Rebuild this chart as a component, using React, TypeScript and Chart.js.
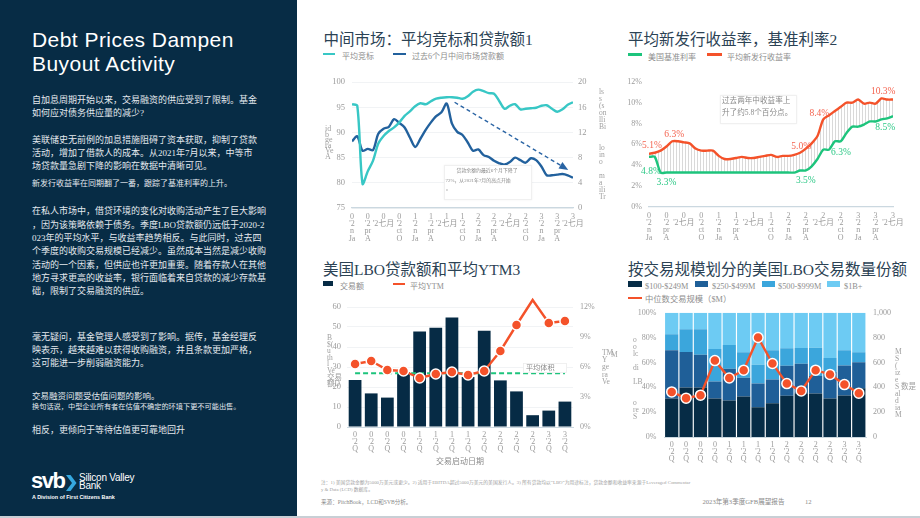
import React, { useEffect, useRef } from 'react';
import { Chart, registerables } from 'chart.js';

Chart.register(...registerables);

const FONT = "'Liberation Serif', 'Noto Sans CJK SC', serif";
const SANS = "'Liberation Sans', Arial, sans-serif";
Chart.defaults.font.family = FONT;

// ---------- 中间市场：平均竞标和贷款额 (monthly, Jan 2020 - Jul 2023) ----------
const MONTH_TICKS: string[][] = [
  ['0', "'2", 'n', 'Ja'], ['0', "'2", 'pr', 'A'], ['0', "'2七月"], ['0', "'2", 'ct', 'O'],
  ['1', "'2", 'n', 'Ja'], ['1', "'2", 'pr', 'A'], ['1', "'2七月"], ['1', "'2", 'ct', 'O'],
  ['2', "'2", 'n', 'Ja'], ['2', "'2", 'pr', 'A'], ['2', "'2七月"], ['2', "'2", 'ct', 'O'],
  ['3', "'2", 'n', 'Ja'], ['3', "'2", 'pr', 'A'], ['3', "'2七月"],
];
const AVG_BID = [
  95.6, 95.3, 79.8, 82.3, 84.4, 87.8, 89.3, 90.3, 91.0, 92.0, 93.3, 94.2, 95.2, 95.8, 95.6,
  96.2, 96.7, 96.9, 97.0, 97.0, 96.9, 96.7, 97.2, 98.1, 98.5, 98.2, 97.8, 97.7, 96.2, 94.7,
  95.3, 95.6, 94.6, 94.7, 94.8, 94.9, 95.3, 95.4, 94.7, 94.1, 94.6, 95.5, 96.0,
];
const LOAN_VOLUME_6M = [
  10.6, 11.4, 9.1, 9.4, 9.2, 11.8, 12.6, 12.9, 14.1, 13.5, 12.8, 11.2, 9.7, 11.0, 12.4,
  13.6, 14.6, 15.2, 16.6, 13.4, 12.1, 11.6, 10.4, 9.1, 9.3, 8.4, 8.1, 7.5, 7.1, 6.9,
  7.3, 8.0, 7.6, 7.2, 7.9, 7.6, 6.6, 5.2, 5.2, 5.3, 5.4, 5.2, 4.8,
];
// trend arrow, from the July 2021 peak to the latest months (month index, $B)
const LOAN_TREND = [
  { x: 19.5, y: 16.8 },
  { x: 40.6, y: 6.3 },
];

// ---------- 平均新发行收益率，基准利率 (monthly, %) ----------
const BASE_RATE = [
  4.8, 4.8, 3.3, 3.3, 3.3, 3.3, 3.3, 3.3, 3.3, 3.3, 3.3, 3.3, 3.3, 3.3, 3.3,
  3.3, 3.3, 3.3, 3.3, 3.3, 3.3, 3.3, 3.3, 3.3, 3.3, 3.3, 3.5, 3.5, 3.9, 4.6,
  5.5, 5.5, 6.3, 6.3, 7.1, 7.7, 7.7, 7.9, 8.2, 8.2, 8.4, 8.5, 8.7,
];
const NEW_ISSUE_YIELD = [
  5.1, 5.2, 5.4, 5.8, 6.3, 6.3, 6.2, 6.1, 5.6, 5.4, 5.4, 5.4, 4.9, 4.6, 4.6,
  4.7, 4.8, 4.7, 4.7, 4.8, 4.9, 5.0, 4.8, 4.9, 4.9, 5.0, 5.2, 5.6, 6.1, 6.8,
  8.4, 8.8, 9.2, 9.6, 10.0, 10.0, 10.3, 9.9, 10.0, 9.9, 10.4, 10.3, 10.3,
];

// ---------- 美国LBO贷款额和平均YTM (quarterly, Q1 2020 - Q2 2023) ----------
const QUARTER_TICKS: string[][] = [
  ['0', "'2", 'Q'], ['0', "'2", 'Q'], ['0', "'2", 'Q'], ['0', "'2", 'Q'],
  ['1', "'2", 'Q'], ['1', "'2", 'Q'], ['1', "'2", 'Q'], ['1', "'2", 'Q'],
  ['2', "'2", 'Q'], ['2', "'2", 'Q'], ['2', "'2", 'Q'], ['2', "'2", 'Q'],
  ['3', "'2", 'Q'], ['3', "'2", 'Q'],
];
const LBO_VOLUME = [23.5, 16.8, 14.7, 27.3, 47.7, 49.6, 54.8, 25.0, 48.1, 23.3, 17.8, 5.9, 8.2, 12.7];
const LBO_YTM = [6.3, 6.6, 5.7, 5.6, 4.9, 5.3, 5.5, 5.2, 5.6, 7.6, 10.2, 12.7, 10.4, 10.6];

// ---------- 按交易规模划分的美国LBO交易数量份额 (% of deals) ----------
const SHARE_100_249 = [31.0, 39.8, 39.8, 31.0, 29.4, 32.6, 23.9, 27.1, 33.2, 35.3, 35.0, 31.0, 33.4, 39.3];
const SHARE_250_499 = [38.8, 28.6, 26.5, 13.6, 25.5, 15.1, 19.1, 19.1, 24.1, 23.6, 14.1, 21.3, 24.2, 20.9];
const SHARE_500_999 = [13.0, 18.3, 20.4, 26.2, 19.1, 20.5, 15.1, 23.6, 14.1, 12.7, 22.8, 11.4, 12.2, 8.0];
const SHARE_1B_PLUS = [17.2, 13.3, 13.3, 29.2, 26.0, 31.8, 41.9, 30.2, 28.6, 28.4, 28.1, 36.3, 30.2, 31.8];
const MEDIAN_DEAL_SIZE = [363, 313, 337, 615, 475, 538, 801, 592, 430, 371, 538, 504, 422, 353];

// ---------- palette ----------
const NAVY_PANEL = '#072c45';
const TITLE = '#2b4254';
const LEGEND_TXT = '#8e8e8e';
const TICK = '#9b9b9b';
const AXIS = '#cbd8e0';
const GRID = '#f1f3f5';
const TEAL = '#38c7c5';
const BLUE = '#22619d';
const GREEN = '#1dc47c';
const RED = '#f4522a';
const BAR_NAVY = '#062b45';
const SIZE_COLORS = ['#062c46', '#1f5f98', '#3ba6dc', '#6dcbf3'];

const tickFont = { size: 8, lineHeight: 0.92 };

const arrowHead = {
  id: 'arrowHead',
  afterDatasetsDraw(chart: any) {
    const pts = chart.getDatasetMeta(2).data;
    if (pts.length < 2) return;
    const a = pts[pts.length - 2];
    const b = pts[pts.length - 1];
    const ang = Math.atan2(b.y - a.y, b.x - a.x);
    const ctx = chart.ctx;
    ctx.save();
    ctx.fillStyle = '#2a64a4';
    ctx.translate(b.x, b.y);
    ctx.rotate(ang);
    ctx.beginPath();
    ctx.moveTo(3, 0);
    ctx.lineTo(-6, -3.8);
    ctx.lineTo(-6, 3.8);
    ctx.closePath();
    ctx.fill();
    ctx.restore();
  },
};

// value callouts for the yield chart: dataset, month index, offset
const YIELD_CALLOUTS = [
  { ds: 1, i: 0, dx: 3, dy: -8.5 },
  { ds: 0, i: 0, dx: 2, dy: 15 },
  { ds: 1, i: 4, dx: 2, dy: -7 },
  { ds: 0, i: 3, dx: 0, dy: 10 },
  { ds: 1, i: 25, dx: 7, dy: -8 },
  { ds: 0, i: 27, dx: 0, dy: 10 },
  { ds: 1, i: 30, dx: -4, dy: -6 },
  { ds: 0, i: 32, dx: 6, dy: 11 },
  { ds: 1, i: 41, dx: -4, dy: -8 },
  { ds: 0, i: 41, dx: -2, dy: 9 },
];

const yieldCallouts = {
  id: 'yieldCallouts',
  afterDatasetsDraw(chart: any) {
    const ctx = chart.ctx;
    ctx.save();
    ctx.font = `9.5px ${FONT}`;
    ctx.textAlign = 'center';
    ctx.textBaseline = 'middle';
    for (const c of YIELD_CALLOUTS) {
      const pt = chart.getDatasetMeta(c.ds).data[c.i];
      const v = c.ds === 0 ? BASE_RATE[c.i] : NEW_ISSUE_YIELD[c.i];
      ctx.fillStyle = c.ds === 0 ? '#2cc886' : '#f46450';
      ctx.fillText(v.toFixed(1) + '%', pt.x + c.dx, pt.y + c.dy);
    }
    ctx.restore();
  },
};

const avgTag = {
  id: 'avgTag',
  afterDatasetsDraw(chart: any) {
    const pts = chart.getDatasetMeta(1).data;
    const last = pts[pts.length - 1];
    const ctx = chart.ctx;
    const w = 44;
    const h = 10;
    const x = last.x + 2 - w;
    const y = last.y - 10.5;
    ctx.save();
    ctx.fillStyle = 'rgba(255,255,255,0.95)';
    ctx.fillRect(x, y, w, h);
    ctx.strokeStyle = '#ececec';
    ctx.lineWidth = 0.8;
    ctx.strokeRect(x + 0.5, y + 0.5, w - 1, h - 1);
    ctx.fillStyle = '#8a8a8a';
    ctx.font = `7.2px ${FONT}`;
    ctx.textBaseline = 'middle';
    ctx.fillText('平均体积', x + 3, y + h / 2 + 0.5);
    ctx.restore();
  },
};

function hatchPattern(): any {
  const c = document.createElement('canvas');
  c.width = 3;
  c.height = 4;
  const g = c.getContext('2d')!;
  g.fillStyle = '#d9d9d9';
  g.fillRect(0, 0, 1, 4);
  return g.createPattern(c, 'repeat') || '#eeeeee';
}

const baseOptions = {
  responsive: false,
  animation: false as const,
  events: [] as any[],
  plugins: { legend: { display: false }, tooltip: { enabled: false } },
};

function buildMidMarket(canvas: HTMLCanvasElement) {
  return new Chart(canvas, {
    type: 'line',
    data: {
      datasets: [
        {
          label: '平均竞标',
          data: AVG_BID.map((y, x) => ({ x, y })),
          borderColor: TEAL,
          borderWidth: 2.4,
          pointRadius: 0,
          tension: 0.3,
          yAxisID: 'y',
        },
        {
          label: '过去6个月中间市场贷款额',
          data: LOAN_VOLUME_6M.map((y, x) => ({ x, y })),
          borderColor: BLUE,
          borderWidth: 2.4,
          pointRadius: 0,
          tension: 0.3,
          yAxisID: 'y1',
        },
        {
          label: 'trend',
          data: LOAN_TREND,
          borderColor: '#2a64a4',
          borderWidth: 1.4,
          borderDash: [4, 3],
          pointRadius: 0,
          yAxisID: 'y1',
        },
      ],
    },
    options: {
      ...baseOptions,
      layout: { padding: { top: 8, left: 0, right: 0, bottom: 0 } },
      scales: {
        x: {
          type: 'linear',
          min: 0,
          max: 42,
          grid: { display: false, drawTicks: false },
          border: { color: AXIS, width: 1.2 },
          ticks: {
            stepSize: 3,
            autoSkip: false,
            maxRotation: 0,
            minRotation: 0,
            padding: 5,
            color: TICK,
            font: tickFont,
            callback: (v: any) => MONTH_TICKS[Math.round(Number(v) / 3)] || '',
          },
          afterFit: (s: any) => { s.height = 47; },
        },
        y: {
          min: 75,
          max: 100,
          grid: { color: GRID, drawTicks: false },
          border: { display: false },
          ticks: { stepSize: 5, padding: 7, color: TICK, font: { size: 8.5 } },
          afterFit: (s: any) => { s.width = 42; },
        },
        y1: {
          position: 'right',
          min: 0,
          max: 20,
          grid: { display: false, drawTicks: false },
          border: { display: false },
          ticks: { stepSize: 4, padding: 5, color: TICK, font: { size: 8.5 } },
          afterFit: (s: any) => { s.width = 37; },
        },
      },
    } as any,
    plugins: [arrowHead],
  });
}

function buildYields(canvas: HTMLCanvasElement) {
  return new Chart(canvas, {
    type: 'line',
    data: {
      datasets: [
        {
          label: '美国基准利率',
          data: BASE_RATE.map((y, x) => ({ x, y })),
          borderColor: GREEN,
          borderWidth: 2.4,
          pointRadius: 0,
          tension: 0.25,
        },
        {
          label: '平均新发行收益率',
          data: NEW_ISSUE_YIELD.map((y, x) => ({ x, y })),
          borderColor: RED,
          borderWidth: 2.4,
          pointRadius: 0,
          tension: 0.25,
          fill: '-1',
          backgroundColor: hatchPattern(),
        },
      ],
    },
    options: {
      ...baseOptions,
      layout: { padding: { top: 9, left: 0, right: 27, bottom: 0 } },
      scales: {
        x: {
          type: 'linear',
          min: 0,
          max: 42,
          grid: { display: false, drawTicks: false },
          border: { color: AXIS, width: 1.2 },
          ticks: {
            stepSize: 3,
            autoSkip: false,
            maxRotation: 0,
            minRotation: 0,
            padding: 5,
            color: TICK,
            font: tickFont,
            callback: (v: any) => MONTH_TICKS[Math.round(Number(v) / 3)] || '',
          },
          afterFit: (s: any) => { s.height = 48; },
        },
        y: {
          min: 0,
          max: 12,
          grid: { display: false, drawTicks: false },
          border: { display: false },
          ticks: { stepSize: 2, padding: 7, color: TICK, font: { size: 8 }, callback: (v: any) => v + '%' },
          afterFit: (s: any) => { s.width = 39; },
        },
      },
    } as any,
    plugins: [yieldCallouts],
  });
}

function buildLboVolume(canvas: HTMLCanvasElement) {
  const avgVolume = LBO_VOLUME.reduce((a, b) => a + b, 0) / LBO_VOLUME.length;
  return new Chart(canvas, {
    type: 'bar',
    data: {
      labels: QUARTER_TICKS as any,
      datasets: [
        {
          type: 'line',
          label: '平均YTM',
          data: LBO_YTM,
          yAxisID: 'y1',
          borderColor: RED,
          borderWidth: 2.4,
          pointRadius: 5,
          pointBackgroundColor: RED,
          pointBorderColor: '#ffffff',
          pointBorderWidth: 1.5,
          order: 0,
          clip: false,
        },
        {
          type: 'line',
          label: '平均体积',
          data: LBO_VOLUME.map(() => avgVolume),
          yAxisID: 'y',
          borderColor: GREEN,
          borderWidth: 2,
          borderDash: [5, 3],
          pointRadius: 0,
          order: 1,
        },
        {
          type: 'bar',
          label: '交易额',
          data: LBO_VOLUME,
          yAxisID: 'y',
          backgroundColor: BAR_NAVY,
          barPercentage: 0.79,
          categoryPercentage: 1,
          order: 2,
        },
      ] as any,
    },
    options: {
      ...baseOptions,
      layout: { padding: { top: 12, left: 0, right: 0, bottom: 0 } },
      scales: {
        x: {
          grid: { display: false, drawTicks: false },
          border: { color: AXIS, width: 1 },
          ticks: { autoSkip: false, maxRotation: 0, minRotation: 0, padding: 5, color: TICK, font: { size: 8, lineHeight: 0.85 } },
          title: { display: true, text: '交易启动日期', color: '#8a8a8a', font: { size: 8 }, padding: { top: 2, bottom: 3 } },
          afterFit: (s: any) => { s.height = 43; },
        },
        y: {
          min: 0,
          max: 60,
          grid: { color: GRID, drawTicks: false },
          border: { display: false },
          ticks: { stepSize: 10, padding: 6, color: TICK, font: { size: 8.5 } },
          afterFit: (s: any) => { s.width = 37; },
        },
        y1: {
          position: 'right',
          min: 0,
          max: 12,
          grid: { display: false, drawTicks: false },
          border: { display: false },
          ticks: { stepSize: 3, padding: 7, color: TICK, font: { size: 8 }, callback: (v: any) => v + '%' },
          afterFit: (s: any) => { s.width = 37; },
        },
      },
    } as any,
    plugins: [avgTag],
  });
}

function buildDealSize(canvas: HTMLCanvasElement) {
  const shares = [SHARE_100_249, SHARE_250_499, SHARE_500_999, SHARE_1B_PLUS];
  const names = ['$100-$249M', '$250-$499M', '$500-$999M', '$1B+'];
  return new Chart(canvas, {
    type: 'bar',
    data: {
      labels: QUARTER_TICKS as any,
      datasets: [
        {
          type: 'line',
          label: '中位数交易规模（$M）',
          data: MEDIAN_DEAL_SIZE,
          yAxisID: 'y1',
          borderColor: RED,
          borderWidth: 2.4,
          pointRadius: 5,
          pointBackgroundColor: RED,
          pointBorderColor: '#ffffff',
          pointBorderWidth: 1.5,
          order: 0,
          clip: false,
        },
        ...shares.map((d, k) => ({
          type: 'bar',
          label: names[k],
          data: d,
          yAxisID: 'y',
          stack: 'share',
          backgroundColor: SIZE_COLORS[k],
          barPercentage: 0.92,
          categoryPercentage: 1,
          order: 1,
        })),
      ] as any,
    },
    options: {
      ...baseOptions,
      layout: { padding: { top: 11, left: 0, right: 0, bottom: 0 } },
      scales: {
        x: {
          stacked: true,
          grid: { display: false, drawTicks: false },
          border: { color: AXIS, width: 1 },
          ticks: { autoSkip: false, maxRotation: 0, minRotation: 0, padding: 5, color: TICK, font: { size: 8, lineHeight: 0.85 } },
          afterFit: (s: any) => { s.height = 38; },
        },
        y: {
          stacked: true,
          min: 0,
          max: 100,
          grid: { display: false, drawTicks: false },
          border: { display: false },
          ticks: { stepSize: 20, padding: 8, color: TICK, font: { size: 8 }, callback: (v: any) => v + '%' },
          afterFit: (s: any) => { s.width = 54.5; },
        },
        y1: {
          position: 'right',
          stacked: false,
          min: 0,
          max: 1000,
          grid: { display: false, drawTicks: false },
          border: { display: false },
          ticks: { stepSize: 200, padding: 7, color: TICK, font: { size: 8 }, callback: (v: any) => Number(v).toLocaleString('en-US') },
          afterFit: (s: any) => { s.width = 54; },
        },
      },
    } as any,
  });
}

function ChartCanvas(props: { x: number; y: number; w: number; h: number; build: (c: HTMLCanvasElement) => Chart }) {
  const ref = useRef<HTMLCanvasElement>(null);
  useEffect(() => {
    const chart = props.build(ref.current!);
    return () => chart.destroy();
  }, []);
  return (
    <canvas
      ref={ref}
      width={props.w}
      height={props.h}
      style={{ position: 'absolute', left: props.x, top: props.y, width: props.w, height: props.h, display: 'block' }}
    />
  );
}

function Txt(props: { x: number; y: number; size: number; color: string; children: any; family?: string; weight?: number; style?: any }) {
  const { x, y, size, color, children, family = FONT, weight = 400, style = {} } = props;
  return (
    <div
      style={{
        position: 'absolute',
        left: x,
        top: y - size * 0.7,
        fontSize: size,
        lineHeight: `${size * 1.4}px`,
        color,
        fontFamily: family,
        fontWeight: weight,
        whiteSpace: 'nowrap',
        ...style,
      }}
    >
      {children}
    </div>
  );
}

function LineKey(props: { x: number; y: number; w: number; color: string }) {
  return <div style={{ position: 'absolute', left: props.x, top: props.y - 1.2, width: props.w, height: 2.5, background: props.color }} />;
}

function BoxKey(props: { x: number; y: number; w: number; h: number; color: string }) {
  return <div style={{ position: 'absolute', left: props.x, top: props.y - props.h / 2, width: props.w, height: props.h, background: props.color }} />;
}

// rotated axis captions that wrap into narrow stacks of fragments
function Stack(props: { x: number; y: number; lines: string[]; lh: number; size?: number }) {
  return (
    <div style={{ position: 'absolute', left: props.x, top: props.y, color: '#a0a0a0', fontFamily: FONT, fontSize: props.size || 8, lineHeight: `${props.lh}px`, whiteSpace: 'nowrap' }}>
      {props.lines.map((l, i) => (
        <div key={i}>{l || '\u00a0'}</div>
      ))}
    </div>
  );
}

const PANEL_LINES: { y: number; size: number; text: string }[] = [
  { y: 100, size: 9, text: '自加息周期开始以来，交易融资的供应受到了限制。基金' },
  { y: 113.3, size: 9, text: '如何应对债务供应量的减少?' },
  { y: 140, size: 9, text: '美联储史无前例的加息措施阻碍了资本获取，抑制了贷款' },
  { y: 153.3, size: 9, text: '活动，增加了借款人的成本。从2021年7月以来，中等市' },
  { y: 166.7, size: 9, text: '场贷款量急剧下降的影响在数据中清晰可见。' },
  { y: 183.3, size: 8, text: '新发行收益率在同期翻了一番，跟踪了基准利率的上升。' },
  { y: 211.7, size: 9, text: '在私人市场中，借贷环境的变化对收购活动产生了巨大影响' },
  { y: 225, size: 9, text: '，因为该策略依赖于债务。季度LBO贷款额仍远低于2020-2' },
  { y: 238.3, size: 9, text: '023年的平均水平，与收益率趋势相反。与此同时，过去四' },
  { y: 251.7, size: 9, text: '个季度的收购交易规模已经减少。虽然成本当然是减少收购' },
  { y: 265, size: 9, text: '活动的一个因素，但供应也许更加重要。随着存款人在其他' },
  { y: 278.3, size: 9, text: '地方寻求更高的收益率，银行面临着来自贷款的减少存款基' },
  { y: 291.7, size: 9, text: '础，限制了交易融资的供应。' },
  { y: 337.7, size: 9, text: '毫无疑问，基金管理人感受到了影响。据传，基金经理反' },
  { y: 350.7, size: 9, text: '映表示，越来越难以获得收购融资，并且条款更加严格，' },
  { y: 363.7, size: 9, text: '这可能进一步削弱融资能力。' },
  { y: 396.7, size: 8.5, text: '交易融资问题受估值问题的影响。' },
  { y: 406.7, size: 7.2, text: '换句话说，中型企业所有者在估值不确定的环境下更不可能出售。' },
  { y: 430.7, size: 9, text: '相反，更倾向于等待估值更可靠地回升' },
];

export default function App() {
  return (
    <div style={{ position: 'fixed', left: 0, top: 0, width: 920, height: 518, background: '#ffffff', overflow: 'hidden' }}>
      {/* left narrative panel */}
      <div style={{ position: 'absolute', left: 0, top: 0, width: 297, height: 516, background: NAVY_PANEL }} />
      <div
        style={{
          position: 'absolute',
          left: 32,
          top: 27.5,
          color: '#ffffff',
          fontFamily: SANS,
          fontSize: 21,
          lineHeight: '24px',
          letterSpacing: 0.45,
          whiteSpace: 'nowrap',
        }}
      >
        <div>Debt Prices Dampen</div>
        <div>Buyout Activity</div>
      </div>
      {PANEL_LINES.map((l, i) => (
        <Txt key={i} x={32} y={l.y} size={l.size} color="#e4e9ee">
          {l.text}
        </Txt>
      ))}
      {/* bank mark */}
      <div style={{ position: 'absolute', left: 31, top: 468, color: '#fff', fontFamily: SANS, fontWeight: 700, fontSize: 22, lineHeight: '26px', letterSpacing: -1.5 }}>svb</div>
      <svg style={{ position: 'absolute', left: 66, top: 475 }} width={11} height={16}>
        <polygon points="0,0 4.5,0 10.5,8 4.5,16 0,16 6,8" fill="#35a8e0" />
      </svg>
      <div style={{ position: 'absolute', left: 79, top: 474, color: '#fff', fontFamily: SANS, fontSize: 10, lineHeight: '8.2px', letterSpacing: -0.25 }}>
        <div>Silicon Valley</div>
        <div>Bank</div>
      </div>
      <Txt x={32} y={497.3} size={5.4} color="#ffffff" family={SANS} weight={600}>
        A Division of First Citizens Bank
      </Txt>
      <div style={{ position: 'absolute', left: 0, top: 516, width: 920, height: 2, background: '#c8cfd5' }} />

      {/* chart titles */}
      <Txt x={323.5} y={40} size={15.5} color={TITLE}>中间市场：平均竞标和贷款额1</Txt>
      <Txt x={628} y={40} size={15.5} color={TITLE}>平均新发行收益率，基准利率2</Txt>
      <Txt x={323} y={270} size={15.5} color={TITLE}>美国LBO贷款额和平均YTM3</Txt>
      <Txt x={628} y={270} size={15.5} color={TITLE}>按交易规模划分的美国LBO交易数量份额</Txt>

      {/* legends */}
      <LineKey x={323} y={54} w={12} color={TEAL} />
      <Txt x={342} y={57} size={8} color={LEGEND_TXT}>平均竞标</Txt>
      <LineKey x={393} y={54} w={13} color={BLUE} />
      <Txt x={412} y={57} size={8} color={LEGEND_TXT}>过去6个月中间市场贷款额</Txt>

      <LineKey x={628} y={54.3} w={14} color={GREEN} />
      <Txt x={648} y={57.5} size={8} color={LEGEND_TXT}>美国基准利率</Txt>
      <LineKey x={707} y={54.3} w={15} color={RED} />
      <Txt x={727} y={57.5} size={8} color={LEGEND_TXT}>平均新发行收益率</Txt>

      <BoxKey x={323} y={283.7} w={10} h={5} color={BAR_NAVY} />
      <Txt x={340} y={286.7} size={8} color={LEGEND_TXT}>交易额</Txt>
      <LineKey x={393} y={283.7} w={12} color={RED} />
      <Txt x={410} y={287} size={8} color={LEGEND_TXT}>平均YTM</Txt>

      <BoxKey x={628.3} y={284} w={13.4} h={5.5} color={SIZE_COLORS[0]} />
      <Txt x={645} y={286.7} size={8.3} color={LEGEND_TXT}>$100-$249M</Txt>
      <BoxKey x={695} y={284} w={13.4} h={5.5} color={SIZE_COLORS[1]} />
      <Txt x={712} y={286.7} size={8.3} color={LEGEND_TXT}>$250-$499M</Txt>
      <BoxKey x={762} y={284} w={13.4} h={5.5} color={SIZE_COLORS[2]} />
      <Txt x={778} y={286.7} size={8.3} color={LEGEND_TXT}>$500-$999M</Txt>
      <BoxKey x={827} y={284} w={13.4} h={5.5} color={SIZE_COLORS[3]} />
      <Txt x={844} y={286.7} size={8.3} color={LEGEND_TXT}>$1B+</Txt>
      <LineKey x={628} y={297.7} w={14} color={RED} />
      <Txt x={645} y={300} size={8.3} color={LEGEND_TXT}>中位数交易规模（$M）</Txt>

      {/* charts */}
      <ChartCanvas x={310} y={70} w={300} h={185} build={buildMidMarket} />
      <ChartCanvas x={610} y={70} w={310} h={185} build={buildYields} />
      <ChartCanvas x={310} y={295} w={300} h={175} build={buildLboVolume} />
      <ChartCanvas x={610} y={300} w={310} h={175} build={buildDealSize} />

      {/* wrapped axis captions */}
      <Stack x={325} y={126} lh={5.6} lines={['id', 'b', 'ge', 'ra', 'Ve', 'A']} />
      <Stack x={599} y={88} lh={7} size={7.5} lines={['ls', 's', '(s', 'on', 'lli', 'Bi', '', '', 'lo', 'in', 'o', '', 'm', 'a', 'ili', 'Tr']} />
      <Stack x={327} y={335} lh={6.6} size={7.5} lines={['B', '$(', 'u', 'th', 'l', 'Ve', '交易', '额D']} />
      <Stack x={602} y={349} lh={7.2} size={7.5} lines={['TM', 'Y', 'ge', 'ra', 'Ve']} />
      <Stack x={633} y={336} lh={7} size={7.5} lines={['o', 'o', 'lc', '', 'di', '', 'LB', '', '', 'o', 're', 'S']} />
      <Stack x={895} y={348} lh={7} size={7.5} lines={['M', 'S', '(', 'iz', 'e', 'S  数是', 'al', 'd', 'ia', 'M']} />
      <Txt x={611} y={355} size={7.5} color="#a0a0a0">M</Txt>

      {/* callout boxes */}
      <div style={{ position: 'absolute', left: 444, top: 165, width: 86, height: 33, background: '#ffffff', border: '1px solid #f0f0f0', boxShadow: '0 0 2px rgba(0,0,0,0.06)' }} />
      <Txt x={456.5} y={171.7} size={4.9} color="#8a8a8a">贷款余额约最近6个月下降了</Txt>
      <Txt x={445.5} y={181.7} size={4.9} color="#8a8a8a">72%，从2021年7月的高点开始</Txt>
      <Txt x={446} y={189} size={4.9} color="#8a8a8a">。</Txt>

      <div style={{ position: 'absolute', left: 720, top: 95, width: 75, height: 27, background: '#ffffff', border: '1px solid #f0f0f0', boxShadow: '0 0 2px rgba(0,0,0,0.05)' }} />
      <Txt x={722} y={101.5} size={7.6} color="#8a8a8a">过去两年中收益率上</Txt>
      <Txt x={722} y={113.5} size={7.6} color="#8a8a8a">升了约5.8个百分点。</Txt>

      {/* footer */}
      <Txt x={321} y={483} size={4.8} color="#a0a0a0">
        注：1) 美国贷款金额为5000万美元或更少。2) 适用于EBITDA超过5000万美元的美国发行人。3) 所有贷款均以“LBO”为用途标注，贷款金额和收益率来源于Leveraged Commentar
      </Txt>
      <Txt x={321} y={490} size={4.8} color="#a0a0a0">y &amp; Data (LCD) 数据库。</Txt>
      <Txt x={321} y={503} size={5.6} color="#8a8a8a">来源：PitchBook，LCD和SVB分析。</Txt>
      <Txt x={702.5} y={502} size={6.6} color="#8a8a8a">2023年第3季度GFB展望报告</Txt>
      <Txt x={805} y={502} size={6.6} color="#8a8a8a">12</Txt>
    </div>
  );
}
